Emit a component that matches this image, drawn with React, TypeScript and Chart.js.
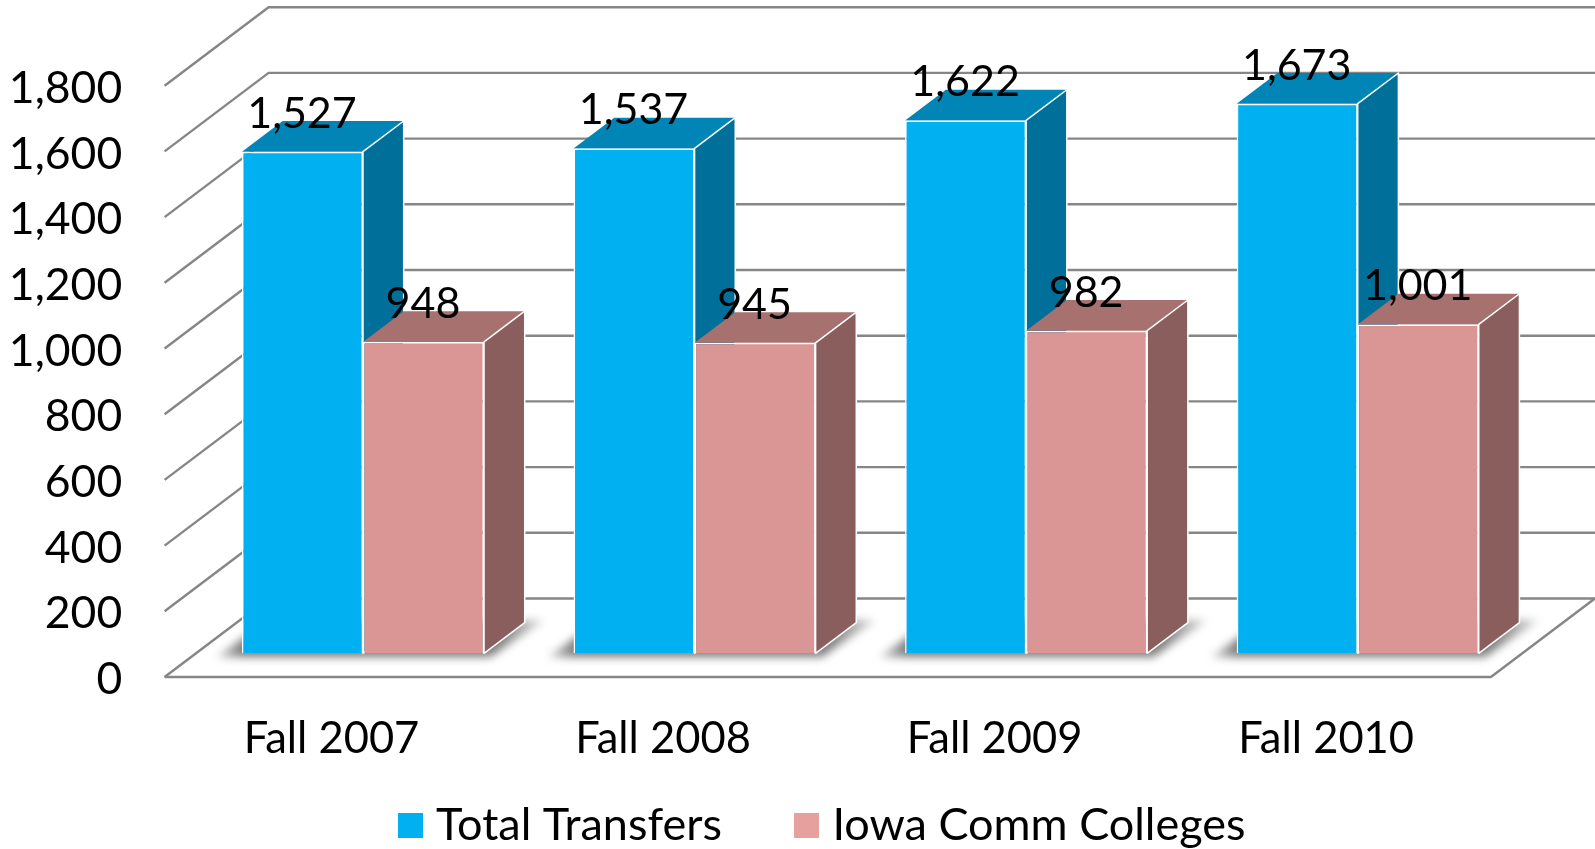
import React, { useEffect, useRef } from "react";
import { Chart, registerables } from "chart.js";

Chart.register(...registerables);

const categories = ["Fall 2007", "Fall 2008", "Fall 2009", "Fall 2010"];
const seriesNames = ["Total Transfers", "Iowa Comm Colleges"];
const totalTransfers = [1527, 1537, 1622, 1673];
const iowaCommColleges = [948, 945, 982, 1001];

const FONT = "Lato, Carlito, sans-serif";
const FONT_SIZE = 43.5;
const DATA_FONT_SIZE = 43;
const Y_FONT_SIZE = 44.5;
const LEGEND_FONT_SIZE = 45;
const frontColors = ["#00B0F0", "#D99694"];
const topColors = ["#0085B6", "#A6716F"];
const sideColors = ["#006F9A", "#8A5E5D"];
const legendColors = ["#00B0F0", "#E6A09E"];

const BAR_DX = 40.7;
const BAR_DY = -30.7;
const WALL_FRONT_DX = -32.6;
const WALL_FRONT_DY = 23.7;
const WALL_DX = 104;
const WALL_DY = -78.5;
const GRID = "#868686";

const fmt = (v: number) => v.toLocaleString("en-US");

function poly(ctx: CanvasRenderingContext2D, pts: number[][]) {
  ctx.beginPath();
  pts.forEach((p, i) => (i ? ctx.lineTo(p[0], p[1]) : ctx.moveTo(p[0], p[1])));
  ctx.closePath();
}

function swatch(color: string) {
  const c = document.createElement("canvas");
  c.width = 25;
  c.height = 25;
  const g = c.getContext("2d")!;
  g.fillStyle = color;
  g.fillRect(0, 0, 25, 25);
  return c;
}

const noAutoPadding = (s: any) => {
  s.paddingTop = 0;
  s.paddingBottom = 0;
  s.paddingLeft = 0;
  s.paddingRight = 0;
};

const wallsPlugin = {
  id: "walls",
  afterLayout(chart: any) {
    const l = chart.legend;
    if (l) {
      l.left = 58;
      l.right = 1595;
      l.top = 721;
      l.bottom = 849;
    }
  },
  beforeDatasetsDraw(chart: any) {
    const { ctx, chartArea, scales } = chart;
    const y = scales.y;
    const x0 = chartArea.left + WALL_FRONT_DX;
    const x1 = x0 + WALL_DX;
    ctx.save();
    ctx.strokeStyle = GRID;
    ctx.lineWidth = 2.4;
    for (const t of y.ticks) {
      const p = y.getPixelForValue(t.value) + WALL_FRONT_DY;
      ctx.beginPath();
      ctx.moveTo(x0, p);
      ctx.lineTo(x1, p + WALL_DY);
      ctx.lineTo(chart.width, p + WALL_DY);
      ctx.stroke();
    }
    const p0 = y.getPixelForValue(0) + WALL_FRONT_DY;
    const xr = chartArea.right + WALL_FRONT_DX;
    ctx.beginPath();
    ctx.moveTo(x0, p0);
    ctx.lineTo(xr, p0);
    ctx.lineTo(xr + WALL_DX, p0 + WALL_DY);
    ctx.stroke();

    // floor shadows
    const a = chart.getDatasetMeta(0).data;
    const b = chart.getDatasetMeta(1).data;
    ctx.filter = "blur(4px)";
    a.forEach((el: any, i: number) => {
      const left = el.x - el.width / 2;
      const right = b[i].x + b[i].width / 2;
      const base = el.base;
      const x0s = left - 30;
      const x1s = right + 66;
      const g = ctx.createLinearGradient(x0s, 0, x1s, 0);
      const w = x1s - x0s;
      g.addColorStop(0, "#e4e4e4");
      g.addColorStop(30 / w, "#808080");
      g.addColorStop((right + 14 - x0s) / w, "#808080");
      g.addColorStop(1, "#e4e4e4");
      ctx.fillStyle = g;
      poly(ctx, [
        [left - 26, base + 4],
        [right + 6, base + 4],
        [right + 60, base - 33],
        [left + 26, base - 33],
      ]);
      ctx.fill();
    });
    ctx.filter = "none";

    // 3D faces: blue first, then pink; the library paints the front faces on top.
    ctx.strokeStyle = "#ffffff";
    ctx.lineWidth = 1.5;
    ctx.lineJoin = "round";
    [0, 1].forEach((di) => {
      for (const el of chart.getDatasetMeta(di).data) {
        const l = el.x - el.width / 2;
        const r = el.x + el.width / 2;
        const t = el.y;
        const bs = el.base;
        poly(ctx, [
          [l, t],
          [r, t],
          [r + BAR_DX, t + BAR_DY],
          [l + BAR_DX, t + BAR_DY],
        ]);
        ctx.fillStyle = topColors[di];
        ctx.fill();
        poly(ctx, [
          [r, t],
          [r + BAR_DX, t + BAR_DY],
          [r + BAR_DX, bs + BAR_DY],
          [r, bs],
        ]);
        ctx.fillStyle = sideColors[di];
        ctx.fill();
        ctx.stroke();
      }
    });
    ctx.restore();
  },
  afterDatasetsDraw(chart: any) {
    const { ctx } = chart;
    ctx.save();
    ctx.fillStyle = "#000";
    ctx.font = `${DATA_FONT_SIZE}px ${FONT}`;
    ctx.textAlign = "center";
    ctx.textBaseline = "alphabetic";
    chart.data.datasets.forEach((ds: any, di: number) => {
      chart.getDatasetMeta(di).data.forEach((el: any, i: number) => {
        ctx.fillText(fmt(ds.data[i]), el.x - 0.5, el.y - 24);
      });
    });
    ctx.restore();
  },
};

export default function App() {
  const ref = useRef<HTMLCanvasElement>(null);
  useEffect(() => {
    const chart = new Chart(ref.current!, {
      type: "bar",
      data: {
        labels: categories,
        datasets: [
          {
            label: seriesNames[0],
            data: totalTransfers,
            backgroundColor: frontColors[0],
            borderColor: "#ffffff",
            borderWidth: 1.5,
          },
          {
            label: seriesNames[1],
            data: iowaCommColleges,
            backgroundColor: frontColors[1],
            borderColor: "#ffffff",
            borderWidth: 1.5,
          },
        ],
      },
      options: {
        responsive: false,
        animation: false,
        events: [],
        layout: { padding: { left: 0, right: 71.5, top: 62, bottom: 0 } },
        datasets: { bar: { categoryPercentage: 0.73, barPercentage: 1 } },
        scales: {
          x: {
            grid: { display: false },
            border: { display: false },
            afterFit: (s: any) => {
              s.height = 145.7;
              noAutoPadding(s);
            },
            ticks: {
              color: "#000",
              padding: 56,
              labelOffset: -31.5,
              maxRotation: 0,
              font: { family: FONT, size: FONT_SIZE, lineHeight: 1 },
            },
          },
          y: {
            min: 0,
            max: 1800,
            grid: { display: false },
            border: { display: false },
            afterFit: (s: any) => {
              s.width = 197.2;
              noAutoPadding(s);
            },
            ticks: {
              stepSize: 200,
              color: "#000",
              padding: 67,
              labelOffset: 26.5,
              callback: (v: any) => fmt(Number(v)),
              font: { family: FONT, size: Y_FONT_SIZE, lineHeight: 1 },
            },
          },
        },
        plugins: {
          title: { display: false },
          tooltip: { enabled: false },
          legend: {
            display: true,
            position: "bottom",
            maxHeight: 50,
            labels: {
              usePointStyle: true,
              pointStyleWidth: 6,
              padding: 82,
              color: "#000",
              font: { family: FONT, size: LEGEND_FONT_SIZE, lineHeight: 1 },
              generateLabels: (c: any) =>
                c.data.datasets.map((ds: any, i: number) => ({
                  text: ds.label,
                  pointStyle: swatch(legendColors[i]),
                  fillStyle: legendColors[i],
                  strokeStyle: legendColors[i],
                  lineWidth: 0,
                  hidden: false,
                  datasetIndex: i,
                })),
            },
          },
        },
      },
      plugins: [wallsPlugin],
    } as any);
    return () => chart.destroy();
  }, []);
  return (
    <div style={{ position: "absolute", left: 0, top: 0, width: 1595, height: 849, background: "#fff" }}>
      <canvas ref={ref} width={1595} height={849} style={{ display: "block" }} />
    </div>
  );
}
